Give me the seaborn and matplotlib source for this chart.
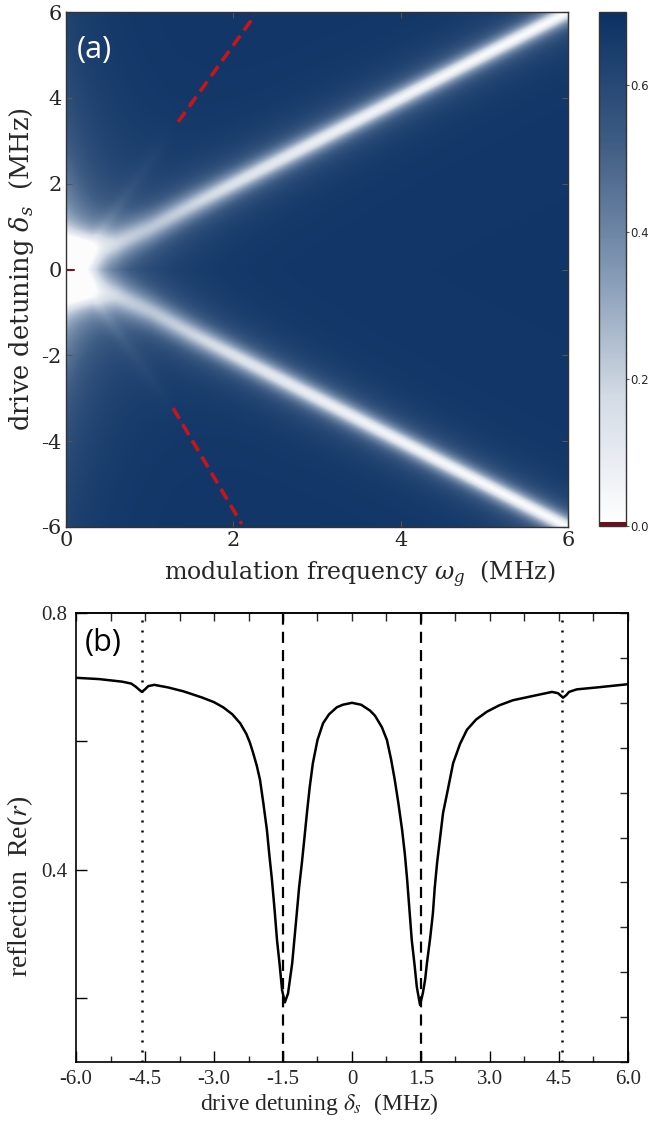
import numpy as np
import matplotlib
matplotlib.use("Agg")
import matplotlib.pyplot as plt
import seaborn as sns
from matplotlib.colors import LinearSegmentedColormap, ListedColormap

# ---------------- panel (a): features ----------------
background = 0.68
# centre of the two bright bands (upper one, lower one is its mirror)
ridge_omega = [0.0, 0.3, 0.6, 1.0, 1.5, 2.0, 3.0, 4.0, 5.0, 6.0]
ridge_delta = [0.45, 0.5, 0.62, 0.97, 1.5, 2.0, 3.0, 4.0, 5.0, 6.0]
ridge_depth = [0.36, 0.38, 0.40, 0.42, 0.48, 0.54, 0.60, 0.63, 0.65, 0.66]
ridge_width = [0.45, 0.42, 0.40, 0.37, 0.33, 0.29, 0.26, 0.24, 0.23, 0.23]
# faint third sideband (continued by the red dashed guides)
side_omega = [0.3, 0.7, 1.0, 1.3]
side_delta = [0.6, 1.7, 2.5, 3.3]
side_depth = [0.07, 0.05, 0.03, 0.0]
# bright spot at the origin and lighter strip at small omega
blob_size = [0.36, 0.6]
blob_depth = 0.45
glow_size = [0.45, 2.5]
glow_depth = 0.35

red_up_omega = [1.34, 2.26]
red_up_delta = [3.44, 5.93]
red_lo_omega = [1.28, 2.10]
red_lo_delta = [-3.23, -5.93]
red_tick_omega = [0.0, 0.1]
red_tick_delta = [0.0, 0.0]

cbar_ticks = [0.0, 0.2, 0.4, 0.6]

# ---------------- panel (b): Re(r) curve ----------------
detuning = [-6.0, -5.5, -5.0, -4.8, -4.7, -4.62, -4.57, -4.5, -4.43, -4.3,
            -4.0, -3.67, -3.5, -3.25, -3.0, -2.8, -2.6, -2.43, -2.3, -2.22,
            -2.15, -2.07, -2.0, -1.93, -1.85, -1.80, -1.74, -1.68, -1.63, -1.57,
            -1.52, -1.46, -1.39, -1.35, -1.30, -1.25, -1.20, -1.15, -1.09, -1.03,
            -0.98, -0.92, -0.85, -0.75, -0.63, -0.5, -0.33, -0.2, 0.0, 0.2,
            0.39, 0.5, 0.65, 0.76, 0.85, 0.93, 1.01, 1.09, 1.15, 1.20,
            1.25, 1.30, 1.36, 1.41, 1.48, 1.54, 1.59, 1.63, 1.70, 1.76,
            1.80, 1.85, 1.92, 1.98, 2.08, 2.2, 2.35, 2.5, 2.7, 2.93,
            3.2, 3.5, 4.02, 4.35, 4.48, 4.59, 4.66, 4.72, 4.89, 5.33, 6.0]
reflection = [0.699, 0.697, 0.693, 0.690, 0.685, 0.680, 0.677, 0.681, 0.686, 0.688,
              0.684, 0.678, 0.674, 0.668, 0.661, 0.653, 0.642, 0.628, 0.612, 0.598,
              0.582, 0.562, 0.540, 0.505, 0.462, 0.425, 0.384, 0.335, 0.290, 0.250,
              0.212, 0.193, 0.207, 0.228, 0.254, 0.293, 0.332, 0.372, 0.410, 0.452,
              0.488, 0.528, 0.566, 0.602, 0.628, 0.642, 0.653, 0.657, 0.660, 0.657,
              0.648, 0.640, 0.622, 0.602, 0.572, 0.540, 0.503, 0.462, 0.424, 0.384,
              0.337, 0.290, 0.252, 0.217, 0.189, 0.207, 0.228, 0.254, 0.293, 0.332,
              0.372, 0.410, 0.452, 0.488, 0.523, 0.566, 0.596, 0.618, 0.634, 0.646,
              0.656, 0.664, 0.672, 0.677, 0.675, 0.668, 0.672, 0.677, 0.681, 0.684, 0.689]
dashed_lines = [-1.5, 1.5]
dotted_lines = [-4.56, 4.56]
x_ticks_b = [-6.0, -4.5, -3.0, -1.5, 0.0, 1.5, 3.0, 4.5, 6.0]
x_labels_b = ["-6.0", "-4.5", "-3.0", "-1.5", "0", "1.5", "3.0", "4.5", "6.0"]
y_ticks_b = [0.2, 0.4, 0.6, 0.8]
y_labels_b = ["", "0.4", "", "0.8"]

sns.set_theme(style="ticks")
plt.rcParams["axes.unicode_minus"] = False

fig = plt.figure(figsize=(6.5, 11.35), dpi=100)

# ---- build the map ----
w = np.linspace(0, 6, 361)
d = np.linspace(-6, 6, 721)
W, D = np.meshgrid(w, d)
dist = np.abs(D) - np.interp(W, ridge_omega, ridge_delta)
wid = np.interp(W, ridge_omega, ridge_width)
field = background - np.interp(W, ridge_omega, ridge_depth) / (1 + (dist / wid) ** 2)
dist3 = np.abs(D) - np.interp(W, side_omega, side_delta)
field -= np.interp(W, side_omega, side_depth, right=0.0) / (1 + (dist3 / 0.3) ** 2)
field -= glow_depth * np.exp(-W / glow_size[0]) / (1 + (D / glow_size[1]) ** 2)
field -= blob_depth * np.exp(-(W / blob_size[0]) ** 2 - (D / blob_size[1]) ** 2)
field = np.clip(field, 0.012, 0.70)

base = LinearSegmentedColormap.from_list(
    "wn", ["#ffffff", "#d3dbe5", "#8197b3", "#3d5b83", "#0b3163"])
cols = base(np.linspace(0, 1, 256))
cols[:2] = matplotlib.colors.to_rgba("#6e0f1c")
cmap = ListedColormap(cols)

ax1 = fig.add_axes([0.1015, 0.5357, 0.7723, 0.4537])
im = ax1.imshow(field, origin="lower", extent=[0, 6, -6, 6], aspect="auto",
                cmap=cmap, vmin=0, vmax=0.7, interpolation="bilinear")
ax1.plot(red_up_omega, red_up_delta, color="#c4161c", lw=2.6, dashes=(3.4, 1.8))
ax1.plot(red_lo_omega, red_lo_delta, color="#c4161c", lw=2.6, dashes=(3.4, 1.8))
ax1.plot(red_tick_omega, red_tick_delta, color="#7a1020", lw=1.5)
ax1.set_xlim(0, 6)
ax1.set_ylim(-6, 6)
ax1.set_xticks([0, 2, 4, 6])
ax1.set_yticks([-6, -4, -2, 0, 2, 4, 6])
ax1.tick_params(direction="in", top=True, right=True, length=4, width=0.8,
                color="#555555", labelsize=15, pad=3)
for lab in ax1.get_xticklabels() + ax1.get_yticklabels():
    lab.set_family("DejaVu Serif")
for s in ax1.spines.values():
    s.set_color("#333333")
    s.set_linewidth(1.0)
ax1.set_xlabel(r"modulation frequency $\omega_g$  (MHz)", family="DejaVu Serif",
               fontsize=17, math_fontfamily="dejavuserif", labelpad=0)
ax1.xaxis.set_label_coords(0.585, -0.062)
ax1.set_ylabel(r"drive detuning $\delta_s$  (MHz)", family="DejaVu Serif",
               fontsize=18.5, math_fontfamily="dejavuserif", labelpad=4)
ax1.text(0.022, 0.926, "(a)", transform=ax1.transAxes, color="white",
         fontsize=22, family="Open Sans", va="center", ha="left")

cax = fig.add_axes([0.9215, 0.5366, 0.0415, 0.4528])
cb = fig.colorbar(im, cax=cax, ticks=cbar_ticks)
cb.ax.set_yticklabels([f"{t:.1f}" for t in cbar_ticks])
cb.ax.tick_params(labelsize=8.5, length=2, width=0.8, color="#555555", pad=1)
cb.outline.set_edgecolor("#333333")
cb.outline.set_linewidth(1.0)

# ---- panel (b) ----
ax2 = fig.add_axes([0.117, 0.0643, 0.849, 0.3956])
sns.lineplot(x=detuning, y=reflection, color="black", lw=1.8, ax=ax2)
for xv in dashed_lines:
    ax2.axvline(xv, color="black", lw=1.6, dashes=(5, 3.2))
for xv in dotted_lines:
    ax2.axvline(xv, color="black", lw=1.8, dashes=(0.8, 3.2))
ax2.set_xlim(-6, 6)
ax2.set_ylim(0.1, 0.8)
ax2.set_xticks(x_ticks_b)
ax2.set_xticklabels(x_labels_b)
ax2.set_xticks(np.arange(-5.25, 6, 1.5), minor=True)
ax2.set_yticks(y_ticks_b)
ax2.set_yticklabels(y_labels_b)
ax2.tick_params(which="major", direction="in", length=8, width=1.0, labelsize=15,
                color="black", pad=6)
ax2.tick_params(which="minor", direction="in", length=4, width=1.0)
for lab in ax2.get_xticklabels() + ax2.get_yticklabels():
    lab.set_family("Liberation Serif")
for s in ax2.spines.values():
    s.set_color("black")
    s.set_linewidth(1.2)

top = ax2.secondary_xaxis("top")
top.set_xticks(np.arange(-6, 6.01, 0.75))
top.set_xticklabels([])
top.tick_params(direction="in", length=6, width=1.0)
right = ax2.secondary_yaxis("right")
right.set_yticks(np.arange(0.1, 0.801, 0.07))
right.set_yticklabels([])
right.tick_params(direction="in", length=6, width=1.0)

ax2.set_xlabel(r"drive detuning $\delta_s$  (MHz)", family="Liberation Serif",
               fontsize=17, math_fontfamily="stix", labelpad=2)
ax2.xaxis.set_label_coords(0.44, -0.065)
ax2.set_ylabel(r"reflection  Re($r$)", family="Liberation Serif",
               fontsize=20, math_fontfamily="stix", labelpad=4)
ax2.yaxis.set_label_coords(-0.075, 0.39)
ax2.text(0.016, 0.933, "(b)", transform=ax2.transAxes, color="black",
         fontsize=22, family="Open Sans", va="center", ha="left")

fig.savefig("out.png", dpi=100)
